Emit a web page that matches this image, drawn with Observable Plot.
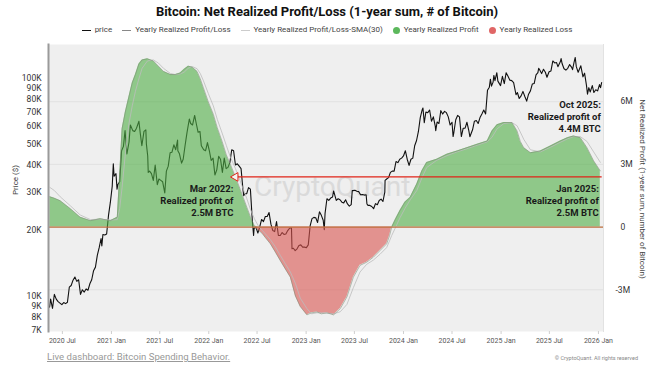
<!DOCTYPE html>
<html><head><meta charset="utf-8">
<script src="https://cdn.jsdelivr.net/npm/d3@7"></script>
<script src="https://cdn.jsdelivr.net/npm/@observablehq/plot@0.6"></script>
<style>
body{margin:0;background:#fff;font-family:Roboto,"Liberation Sans",sans-serif;}
#wrap{position:relative;width:654px;height:374px;overflow:hidden;background:#fff;}
.layer{position:absolute;left:0;top:0;}
#title{position:absolute;top:4px;left:0;width:654px;text-align:center;font-weight:bold;font-size:13px;color:#111;line-height:16px;}
#legend{position:absolute;top:25px;left:0;width:654px;display:flex;justify-content:center;align-items:center;font-size:8px;color:#444;line-height:10px;}
#legend .it{display:flex;align-items:center;margin:0 5px;}
#legend .ln{display:inline-block;width:9px;height:0;border-top:1px solid #000;margin-right:4px;}
#legend .dt{display:inline-block;width:7px;height:7px;border-radius:50%;margin-right:4px;}
#wm{position:absolute;left:254px;top:170px;font-size:28px;color:#dadada;letter-spacing:0px;}
.ytitle{position:absolute;font-size:8px;color:#444;white-space:nowrap;}
#foot{position:absolute;left:47px;top:351px;font-size:9.6px;color:#999;text-decoration:underline;}
#copy{position:absolute;right:16px;top:355px;font-size:5.5px;color:#888;}
</style></head>
<body>
<div id="wrap">
  <div id="title">Bitcoin: Net Realized Profit/Loss (1-year sum, # of Bitcoin)</div>
  <div id="legend">
    <span class="it"><span class="ln" style="border-color:#111"></span>price</span>
    <span class="it"><span class="ln" style="border-color:#888"></span>Yearly Realized Profit/Loss</span>
    <span class="it"><span class="ln" style="border-color:#ccc"></span>Yearly Realized Profit/Loss-SMA(30)</span>
    <span class="it"><span class="dt" style="background:#5cb85c"></span>Yearly Realized Profit</span>
    <span class="it"><span class="dt" style="background:#e06666"></span>Yearly Realized Loss</span>
  </div>
  <div id="l1" class="layer"></div>
  <div id="wm">CryptoQuant</div>
  <div id="l2" class="layer"></div>
  <div id="l3" class="layer"></div>
  <div class="ytitle" style="left:15px;top:180px;transform:translate(-50%,-50%) rotate(-90deg);">Price ($)</div>
  <div class="ytitle" style="left:642px;top:189px;transform:translate(-50%,-50%) rotate(90deg);">Net Realized Profit (1-year sum, number of Bitcoin)</div>
  <div id="foot">Live dashboard: Bitcoin Spending Behavior.</div>
  <div id="copy">© CryptoQuant. All rights reserved</div>
</div>
<script>
// ---------- data ----------
const xTicks = ["2020-07-01","2021-01-01","2021-07-01","2022-01-01","2022-07-01","2023-01-01","2023-07-01","2024-01-01","2024-07-01","2025-01-01","2025-07-01","2026-01-01"];
const priceTicks = [7000,8000,9000,10000,20000,30000,40000,50000,60000,70000,80000,90000,100000];
const priceTickLabels = ["7K","8K","9K","10K","20K","30K","40K","50K","60K","70K","80K","90K","100K"];
const plTicks = [-3,0,3,6];
const plTickLabels = ["-3M","0","3M","6M"];

// BTC price (USD)
const price = [
["2020-05-14",8900],["2020-05-18",9700],["2020-05-25",8800],["2020-06-01",10200],["2020-06-08",9700],["2020-06-15",9450],["2020-06-22",9300],["2020-06-29",9150],["2020-07-06",9350],["2020-07-13",9250],["2020-07-20",9380],["2020-07-27",11000],["2020-08-03",11200],["2020-08-10",11850],["2020-08-17",12250],["2020-08-24",11700],["2020-08-31",11900],["2020-09-07",10200],["2020-09-14",10700],["2020-09-21",10450],["2020-09-28",10800],["2020-10-05",10650],["2020-10-12",11400],["2020-10-19",11900],["2020-10-26",13100],["2020-11-02",13600],["2020-11-09",15400],["2020-11-16",16700],["2020-11-23",18400],["2020-11-26",17000],["2020-11-30",19200],["2020-12-07",19100],["2020-12-14",19300],["2020-12-21",23500],["2020-12-28",27000],
["2021-01-04",32000],["2021-01-08",40500],["2021-01-11",35500],["2021-01-18",36500],["2021-01-22",31000],["2021-01-25",32500],["2021-02-01",33500],["2021-02-08",46500],["2021-02-15",48700],["2021-02-21",57500],["2021-02-28",45000],["2021-03-08",51000],["2021-03-13",61000],["2021-03-22",57500],["2021-03-29",57000],["2021-04-05",59000],["2021-04-14",63500],["2021-04-19",56000],["2021-04-25",49000],["2021-05-03",57000],["2021-05-10",58000],["2021-05-12",50000],["2021-05-17",44000],["2021-05-19",37000],["2021-05-24",37500],["2021-05-31",36500],["2021-06-07",34000],["2021-06-14",40000],["2021-06-22",32500],["2021-06-28",34500],["2021-07-05",34000],["2021-07-12",33500],["2021-07-20",29800],["2021-07-26",37500],["2021-08-02",39500],["2021-08-09",45500],["2021-08-16",45800],["2021-08-23",49500],["2021-08-30",47000],["2021-09-06",52000],["2021-09-07",46500],["2021-09-13",45000],["2021-09-21",40800],["2021-09-27",42500],["2021-10-04",49000],["2021-10-11",56000],["2021-10-20",65000],["2021-10-25",62000],["2021-11-01",61000],["2021-11-09",67500],["2021-11-15",62000],["2021-11-22",56500],["2021-11-29",57000],["2021-12-04",49000],["2021-12-13",47000],["2021-12-20",46500],["2021-12-27",50700],
["2022-01-03",46500],["2022-01-10",42000],["2022-01-17",43000],["2022-01-24",36000],["2022-01-31",38000],["2022-02-07",43800],["2022-02-14",42500],["2022-02-21",37000],["2022-02-28",43000],["2022-03-07",38500],["2022-03-14",39000],["2022-03-21",41000],["2022-03-28",47000],["2022-04-04",46500],["2022-04-11",40000],["2022-04-18",40500],["2022-04-25",39500],["2022-05-02",38500],["2022-05-09",31000],["2022-05-12",28900],["2022-05-16",29500],["2022-05-23",29500],["2022-05-30",31500],["2022-06-06",31000],["2022-06-13",22500],["2022-06-18",19000],["2022-06-20",20500],["2022-06-27",20700],["2022-07-04",19500],["2022-07-11",20800],["2022-07-18",22500],["2022-07-25",22000],["2022-08-01",23200],["2022-08-08",23200],["2022-08-15",24200],["2022-08-22",21400],["2022-08-29",20000],["2022-09-05",19800],["2022-09-12",22000],["2022-09-19",19000],["2022-09-26",19000],["2022-10-03",19600],["2022-10-10",19200],["2022-10-17",19300],["2022-10-24",20000],["2022-10-31",20500],["2022-11-07",20600],["2022-11-09",16500],["2022-11-14",16600],["2022-11-21",16200],["2022-11-28",16500],["2022-12-05",17100],["2022-12-12",17200],["2022-12-19",16800],["2022-12-26",16800],
["2023-01-02",16700],["2023-01-09",17200],["2023-01-16",21000],["2023-01-23",22700],["2023-01-30",23000],["2023-02-06",22900],["2023-02-13",21800],["2023-02-20",24400],["2023-02-27",23500],["2023-03-06",22300],["2023-03-10",20200],["2023-03-13",24000],["2023-03-20",28000],["2023-03-27",27500],["2023-04-03",28200],["2023-04-10",28500],["2023-04-14",30400],["2023-04-24",27500],["2023-05-01",28000],["2023-05-08",27700],["2023-05-15",27000],["2023-05-22",26800],["2023-05-29",27700],["2023-06-05",26500],["2023-06-12",25900],["2023-06-19",26300],["2023-06-23",30500],["2023-07-03",30600],["2023-07-10",30300],["2023-07-17",30200],["2023-07-24",29200],["2023-07-31",29300],["2023-08-07",29100],["2023-08-14",29200],["2023-08-17",26500],["2023-08-21",26100],["2023-08-28",26100],["2023-09-04",25800],["2023-09-11",25200],["2023-09-18",26600],["2023-09-25",26300],["2023-10-02",27500],["2023-10-09",27900],["2023-10-16",27200],["2023-10-23",30000],["2023-10-24",34000],["2023-10-30",34500],["2023-11-06",35000],["2023-11-13",37000],["2023-11-20",37500],["2023-11-27",37500],["2023-12-04",41500],["2023-12-11",41000],["2023-12-18",42500],["2023-12-25",43000],
["2024-01-01",44000],["2024-01-08",46500],["2024-01-15",42500],["2024-01-22",39800],["2024-01-29",42500],["2024-02-05",43000],["2024-02-12",49000],["2024-02-19",51800],["2024-02-26",57000],["2024-03-04",66000],["2024-03-11",71500],["2024-03-14",73000],["2024-03-19",62500],["2024-03-25",70000],["2024-04-01",69500],["2024-04-08",71500],["2024-04-15",63500],["2024-04-22",66500],["2024-04-29",60500],["2024-05-01",57500],["2024-05-06",63000],["2024-05-13",62000],["2024-05-20",71000],["2024-05-27",68500],["2024-06-03",70500],["2024-06-10",69500],["2024-06-17",66500],["2024-06-24",61000],["2024-07-01",62800],["2024-07-05",54000],["2024-07-08",56500],["2024-07-15",64500],["2024-07-22",67500],["2024-07-29",66500],["2024-08-05",54000],["2024-08-12",59000],["2024-08-19",59000],["2024-08-26",62800],["2024-09-02",57500],["2024-09-06",53900],["2024-09-16",58000],["2024-09-23",63500],["2024-09-30",64000],["2024-10-07",62000],["2024-10-14",66000],["2024-10-21",68500],["2024-10-28",71500],["2024-11-04",68500],["2024-11-11",88000],["2024-11-18",91000],["2024-11-22",99000],["2024-11-26",92000],["2024-12-02",96000],["2024-12-05",103000],["2024-12-09",97500],["2024-12-16",106000],["2024-12-20",97000],["2024-12-30",92500],
["2025-01-06",102000],["2025-01-13",94500],["2025-01-20",106000],["2025-01-27",102000],["2025-02-03",98000],["2025-02-10",97500],["2025-02-17",95500],["2025-02-26",84000],["2025-03-03",86000],["2025-03-10",80700],["2025-03-17",83000],["2025-03-24",87000],["2025-03-31",82500],["2025-04-07",78500],["2025-04-14",84500],["2025-04-21",87500],["2025-04-28",94000],["2025-05-05",94500],["2025-05-12",103500],["2025-05-19",106000],["2025-05-22",111000],["2025-05-26",109000],["2025-06-02",105000],["2025-06-09",110000],["2025-06-16",106500],["2025-06-22",101000],["2025-06-30",107000],["2025-07-07",108000],["2025-07-14",120000],["2025-07-21",117500],["2025-07-28",118000],["2025-08-02",113000],["2025-08-11",119000],["2025-08-14",123000],["2025-08-18",116500],["2025-08-25",110500],["2025-09-01",109000],["2025-09-08",111000],["2025-09-15",115500],["2025-09-22",112500],["2025-09-26",109500],["2025-10-02",119000],["2025-10-06",124500],["2025-10-10",113000],["2025-10-17",106500],["2025-10-27",114000],["2025-11-04",101500],["2025-11-10",105500],["2025-11-17",93000],["2025-11-21",84500],["2025-11-26",90500],["2025-12-01",86500],["2025-12-09",92500],["2025-12-15",86000],["2025-12-22",88500],["2025-12-29",87500],
["2026-01-05",93500],["2026-01-09",90500],["2026-01-13",95500]
];

// Yearly realized profit/loss, millions of BTC
const profitLoss = [
["2020-05-15",1.45],["2020-06-01",1.38],["2020-06-23",1.26],["2020-07-31",0.88],["2020-09-06",0.47],["2020-10-14",0.31],["2020-11-20",0.40],["2020-12-28",0.31],["2021-01-23",0.47],["2021-02-01",2.5],["2021-02-10",4.7],["2021-02-22",5.5],["2021-03-07",6.2],["2021-03-20",6.9],["2021-04-01",7.3],["2021-04-14",7.8],["2021-04-26",8.0],["2021-05-16",8.05],["2021-06-07",7.95],["2021-06-26",7.7],["2021-07-15",7.45],["2021-08-10",7.3],["2021-08-29",7.3],["2021-09-16",7.37],["2021-10-01",7.55],["2021-10-16",7.7],["2021-10-31",7.65],["2021-11-18",7.45],["2021-11-30",7.1],["2021-12-12",6.66],["2021-12-30",6.0],["2022-01-18",5.4],["2022-02-02",4.75],["2022-02-20",4.1],["2022-03-08",3.45],["2022-03-23",3.0],["2022-04-11",2.4],["2022-04-29",1.8],["2022-05-24",0.94],["2022-06-06",0.5],["2022-06-21",0.05],["2022-07-06",-0.15],["2022-07-20",-0.3],["2022-08-01",-0.5],["2022-08-20",-0.8],["2022-09-08",-1.2],["2022-09-26",-1.6],["2022-10-15",-2.0],["2022-11-03",-2.4],["2022-11-22",-3.3],["2022-12-10",-3.8],["2023-01-04",-4.2],["2023-01-21",-4.1],["2023-02-11",-4.06],["2023-02-27",-4.15],["2023-03-20",-4.1],["2023-04-14",-4.2],["2023-05-09",-3.9],["2023-06-03",-3.34],["2023-06-27",-2.4],["2023-07-22",-1.83],["2023-08-16",-1.68],["2023-09-10",-1.44],["2023-10-05",-1.12],["2023-10-30",-0.8],["2023-11-10",-0.4],["2023-11-18",0.0],["2023-12-01",0.35],["2023-12-19",0.79],["2024-01-07",1.2],["2024-01-26",1.42],["2024-02-20",2.06],["2024-03-10",2.69],["2024-03-28",3.09],["2024-05-05",3.25],["2024-06-12",3.49],["2024-07-20",3.64],["2024-08-26",3.8],["2024-10-03",3.96],["2024-11-10",4.12],["2024-11-28",4.6],["2024-12-17",4.9],["2025-01-11",5.0],["2025-02-11",5.0],["2025-03-02",4.6],["2025-03-14",4.1],["2025-03-27",3.8],["2025-04-21",3.56],["2025-05-28",3.64],["2025-07-05",3.88],["2025-08-11",4.12],["2025-09-07",4.28],["2025-09-30",4.36],["2025-10-25",4.28],["2025-11-19",3.8],["2025-12-14",3.17],["2026-01-08",2.69]
];

// SMA(30) of yearly realized profit/loss, millions of BTC
const profitLossSMA = [
["2020-05-15",1.9],["2020-06-01",1.75],["2020-06-23",1.45],["2020-07-31",1.02],["2020-09-06",0.58],["2020-10-14",0.36],["2020-11-20",0.38],["2020-12-28",0.34],["2021-01-23",0.36],["2021-02-01",0.9],["2021-02-10",1.9],["2021-02-22",3.5],["2021-03-07",4.9],["2021-03-20",5.8],["2021-04-01",6.5],["2021-04-14",7.1],["2021-04-26",7.6],["2021-05-16",7.95],["2021-06-07",8.0],["2021-06-26",7.85],["2021-07-15",7.6],["2021-08-10",7.35],["2021-08-29",7.3],["2021-09-16",7.33],["2021-10-01",7.42],["2021-10-16",7.6],["2021-10-31",7.68],["2021-11-18",7.58],["2021-11-30",7.35],["2021-12-12",7.0],["2021-12-30",6.4],["2022-01-18",5.8],["2022-02-02",5.15],["2022-02-20",4.5],["2022-03-08",3.9],["2022-03-23",3.35],["2022-04-11",2.8],["2022-04-29",2.2],["2022-05-24",1.35],["2022-06-06",0.85],["2022-06-21",0.4],["2022-07-06",0.05],["2022-07-20",-0.15],["2022-08-01",-0.32],["2022-08-20",-0.6],["2022-09-08",-0.95],["2022-09-26",-1.35],["2022-10-15",-1.75],["2022-11-03",-2.15],["2022-11-22",-2.7],["2022-12-10",-3.4],["2023-01-04",-3.9],["2023-01-21",-4.15],["2023-02-11",-4.1],["2023-02-27",-4.1],["2023-03-20",-4.12],["2023-04-14",-4.15],["2023-05-09",-4.05],["2023-06-03",-3.7],["2023-06-27",-2.9],["2023-07-22",-2.15],["2023-08-16",-1.78],["2023-09-10",-1.58],["2023-10-05",-1.3],["2023-10-30",-0.98],["2023-11-10",-0.65],["2023-11-18",-0.4],["2023-12-01",-0.05],["2023-12-19",0.45],["2024-01-07",0.9],["2024-01-26",1.3],["2024-02-20",1.75],["2024-03-10",2.35],["2024-03-28",2.85],["2024-05-05",3.2],["2024-06-12",3.42],["2024-07-20",3.6],["2024-08-26",3.75],["2024-10-03",3.92],["2024-11-10",4.08],["2024-11-28",4.3],["2024-12-17",4.7],["2025-01-11",4.95],["2025-02-11",5.0],["2025-03-02",4.85],["2025-03-14",4.55],["2025-03-27",4.2],["2025-04-21",3.7],["2025-05-28",3.6],["2025-07-05",3.82],["2025-08-11",4.06],["2025-09-07",4.22],["2025-09-30",4.33],["2025-10-25",4.33],["2025-11-19",4.1],["2025-12-14",3.6],["2026-01-08",3.1]
];

// reference line (Mar 2022 level = current level)
const refLineStart = "2022-04-11";
const refLineEnd = "2026-01-15";
const refLineValue = 2.4;

const annotTexts = ["Mar 2022:\nRealized profit of\n2.5M BTC", "Jan 2025:\nRealized profit of\n2.5M BTC", "Oct 2025:\nRealized profit of\n4.4M BTC"];
const annotDates = ["2022-04-11", "2026-01-10", "2026-01-10"];
const annotValues = [2.4, 2.4, 4.4];

// ---------- build ----------
const P = d => new Date(d + "T00:00:00Z");
const priceData = price.map(([d, v]) => ({date: P(d), v}));
const plData = profitLoss.map(([d, v]) => ({date: P(d), v}));
const smaData = profitLossSMA.map(([d, v]) => ({date: P(d), v}));
const annots = annotTexts.map((t, i) => ({t, date: P(annotDates[i]), v: annotValues[i]}));
const refLine = [{a: P(refLineStart), b: P(refLineEnd), v: refLineValue}];
const xTickDates = xTicks.map(P);
const priceTickData = priceTicks.map((v, i) => ({v, label: priceTickLabels[i]}));
const plTickData = plTicks.map((v, i) => ({v, label: plTickLabels[i]}));

const common = {
  width: 654, height: 350,
  marginLeft: 48, marginRight: 51, marginTop: 44, marginBottom: 19,
  style: {background: "transparent", fontFamily: "Roboto, 'Liberation Sans', sans-serif", overflow: "visible"},
  x: {type: "utc", domain: [P("2020-05-10"), P("2026-01-20")], axis: null}
};
const plY = {domain: [-4.995, 8.737], axis: null};

// layer 1: background, grid, right axis
const l1 = Plot.plot({
  ...common, y: plY,
  marks: [
    Plot.frame({fill: "#efefef", stroke: "none"}),
    Plot.gridY(plTicks, {stroke: "#e1e1e1", strokeOpacity: 1}),
    Plot.text(plTickData.filter(d => d.v >= 0), {y: "v", text: "label", frameAnchor: "right", textAnchor: "start", dx: 17, fontSize: 8.5, fill: "#333"}),
    Plot.text(plTickData.filter(d => d.v < 0), {y: "v", text: "label", frameAnchor: "right", textAnchor: "start", dx: 12, fontSize: 8.5, fill: "#333"})
  ]
});

// layer 2: price (log) with left and bottom axes
const l2 = Plot.plot({
  ...common,
  y: {type: "log", domain: [6890, 142800], axis: null},
  marks: [
    Plot.line(priceData, {x: "date", y: "v", stroke: "#111", strokeWidth: 1.1}),
    Plot.text(priceTickData, {y: "v", text: "label", frameAnchor: "left", textAnchor: "end", dx: -7, fontSize: 8.5, fill: "#333"}),
    Plot.axisX(xTickDates, {tickSize: 3, tickFormat: () => "", stroke: "#cfcfcf", label: null}),
    Plot.axisX(xTickDates, {tickSize: 0, tickPadding: 7, tickFormat: d3.utcFormat("%Y %b"), label: null, fontSize: 7, fill: "#555"})
  ]
});

// layer 3: profit / loss areas and annotations
const l3 = Plot.plot({
  ...common, y: plY,
  marks: [
    Plot.areaY(plData, {x: "date", y1: 0, y2: d => Math.max(0, d.v), fill: "#4fae45", fillOpacity: 0.6}),
    Plot.areaY(plData, {x: "date", y1: 0, y2: d => Math.min(0, d.v), fill: "#d9534f", fillOpacity: 0.6}),
    Plot.line(smaData, {x: "date", y: "v", stroke: "#bdbdbd", strokeWidth: 0.8}),
    Plot.line(plData, {x: "date", y: "v", stroke: "#7c8c75", strokeWidth: 0.7, strokeOpacity: 0.8}),
    Plot.ruleY([0], {stroke: "#c0703f", strokeWidth: 1.2}),
    Plot.ruleY(refLine, {y: "v", x1: "a", x2: "b", stroke: "#e02418", strokeWidth: 1.3}),
    Plot.dot(refLine, {x: "a", y: "v", symbol: "triangle", rotate: -90, r: 3.2, stroke: "#e02418", fill: "#f4f4f4", strokeWidth: 1}),
    Plot.text(annots.slice(0, 2), {x: "date", y: "v", text: "t", textAnchor: "end", lineAnchor: "top", dx: -2, dy: 7, fontSize: 9.5, fontWeight: "bold", fill: "#1a1a1a", lineHeight: 1.25}),
    Plot.text(annots.slice(2), {x: "date", y: "v", text: "t", textAnchor: "end", lineAnchor: "bottom", dx: 0, dy: -3, fontSize: 9.5, fontWeight: "bold", fill: "#1a1a1a", lineHeight: 1.25}),
    Plot.frame({anchor: "left", stroke: "#9a9a9a", strokeWidth: 2}),
    Plot.frame({anchor: "right", stroke: "#e2e2e2"})
  ]
});

document.getElementById("l1").appendChild(l1);
document.getElementById("l2").appendChild(l2);
document.getElementById("l3").appendChild(l3);
</script>
</body></html>
